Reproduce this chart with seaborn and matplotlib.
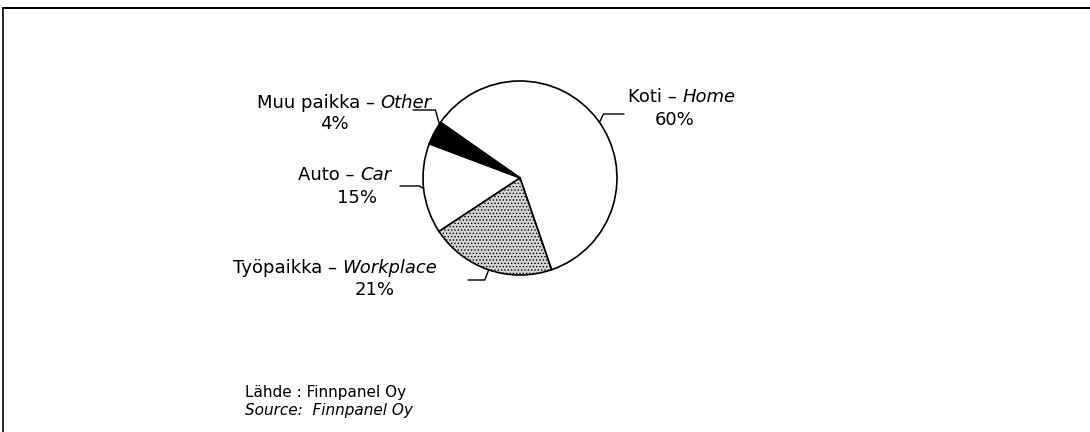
import numpy as np
import matplotlib
matplotlib.use('Agg')
import matplotlib.pyplot as plt
import seaborn as sns

# data
labels_fi = ['Koti', 'Muu paikka', 'Auto', 'Työpaikka']
labels_en = ['Home', 'Other', 'Car', 'Workplace']
shares = [60, 4, 15, 21]
colors = ['white', 'black', 'white', '#d4d4d4']
hatches = [None, None, None, '.....']

sns.set_theme(style='white')
plt.rcParams['font.family'] = ['Liberation Sans Narrow', 'DejaVu Sans']
plt.rcParams['hatch.color'] = '#888888'
plt.rcParams['hatch.linewidth'] = 0.6

W, H = 1090, 432
fig = plt.figure(figsize=(W / 100, H / 100), dpi=100)
ax = fig.add_axes([0, 0, 1, 1])

# pie in pixel coordinates (y flipped)
cx, cy, r = 520, H - 178, 97
wedges, _ = ax.pie(shares, colors=colors, startangle=-71, counterclock=True,
                   center=(cx, cy), radius=r,
                   wedgeprops=dict(edgecolor='black', linewidth=1.2))
for w, h in zip(wedges, hatches):
    if h:
        w.set_hatch(h)
ax.set_xlim(0, W)
ax.set_ylim(0, H)
ax.set_aspect('equal')
ax.axis('off')

# label layout: (name left x, name y, pct x, pct y, leader end x, leader y, angle shift)
layout = [
    (628, 97, 675, 120, 624, 114, -2),
    (257, 103, 334, 124, 413, 110, -6),
    (298, 175, 357, 198, 400, 186, 0),
    (233, 268, 375, 290, 468, 280, 0),
]
fs = 13
for w, fi, en, p, (nx, ny, px, py, lx, ly, da) in zip(wedges, labels_fi, labels_en, shares, layout):
    t = np.deg2rad((w.theta1 + w.theta2) / 2 + da)
    ex, ey = cx + r * np.cos(t), cy + r * np.sin(t)
    ly_d = H - ly
    if abs(ey - ly_d) > 2:
        kx = ex + (4 if lx > ex else -4)
        ax.plot([ex, kx, lx], [ey, ly_d, ly_d], color='black', lw=1.0)
    else:
        ax.plot([ex, lx], [ly_d, ly_d], color='black', lw=1.0)
    t1 = ax.text(nx, H - ny, f'{fi} – ', ha='left', va='center', fontsize=fs, color='black')
    ax.annotate(en, xy=(1, 0.5), xycoords=t1, ha='left', va='center', fontsize=fs,
                style='italic', color='black')
    ax.text(px, H - py, f'{p}%', ha='center', va='center', fontsize=fs, color='black')

# source
ax.text(245, H - 392, 'Lähde : Finnpanel Oy', ha='left', va='center', fontsize=11, color='black')
ax.text(245, H - 410, 'Source:  Finnpanel Oy', ha='left', va='center', fontsize=11,
        style='italic', color='black')

# frame: top and left lines
ax.plot([3, W], [H - 8, H - 8], color='black', lw=1.5)
ax.plot([3, 3], [H - 8, 0], color='black', lw=1.2)

fig.savefig('out.png', dpi=100, facecolor='white')
